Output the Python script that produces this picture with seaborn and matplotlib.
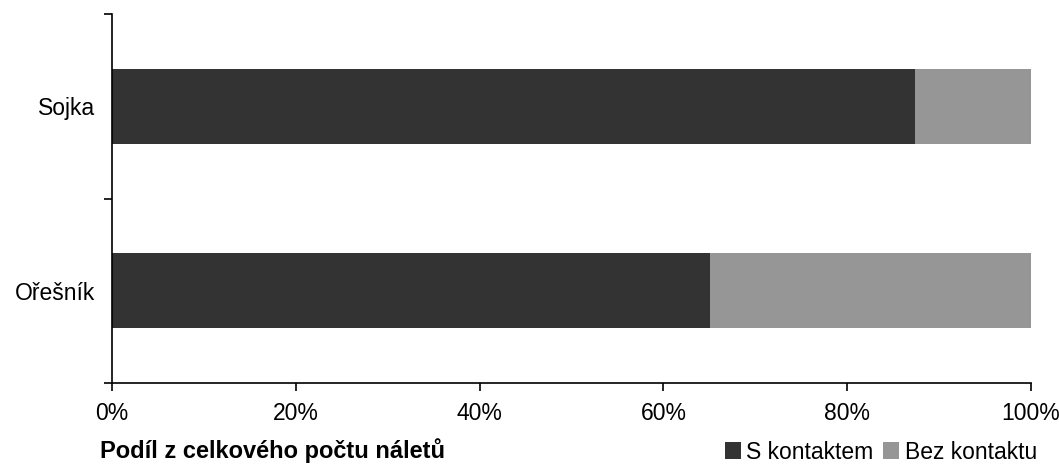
import numpy as np
import pandas as pd
import matplotlib
matplotlib.use('Agg')
import matplotlib.pyplot as plt
import seaborn as sns
from matplotlib.patches import Patch
from matplotlib.ticker import PercentFormatter, FixedLocator

species = ["Sojka", "Ořešník"]
s_kontaktem = [87.4, 65.1]
bez_kontaktu = [12.6, 34.9]
series_names = ["S kontaktem", "Bez kontaktu"]
colors = ["#333333", "#969696"]

df = pd.DataFrame({
    "druh": species,
    "s": s_kontaktem,
    "celkem": np.array(s_kontaktem) + np.array(bez_kontaktu),
})

sns.set_style("white")
plt.rcParams['font.family'] = ['Liberation Sans', 'DejaVu Sans']
plt.rcParams['text.color'] = 'black'
plt.rcParams['xtick.color'] = 'black'
plt.rcParams['ytick.color'] = 'black'

fig = plt.figure(figsize=(10.59, 4.66), dpi=100)
ax = fig.add_axes([0.1058, 0.178, 0.8678, 0.792])

# light bar = full stack, dark bar drawn over it
sns.barplot(data=df, x="celkem", y="druh", order=species, color=colors[1],
            width=0.405, saturation=1, linewidth=0, ax=ax)
sns.barplot(data=df, x="s", y="druh", order=species, color=colors[0],
            width=0.405, saturation=1, linewidth=0, ax=ax)

ax.set_xlim(0, 100)
ax.set_ylim(1.5, -0.5)
ax.set_xticks(np.arange(0, 101, 20))
ax.xaxis.set_major_formatter(PercentFormatter(decimals=0))
ax.set_xlabel("")
ax.set_ylabel("")

# category boundary ticks on y axis, labels without ticks
ax.yaxis.set_minor_locator(FixedLocator([-0.5, 0.5, 1.5]))
ax.tick_params(axis='y', which='major', length=0, pad=12, labelsize=16.5)
ax.tick_params(axis='y', which='minor', length=6, width=1.2, direction='out', left=True)
ax.tick_params(axis='x', length=6, width=1.2, direction='out', bottom=True,
               labelsize=16.5, pad=8)

for side in ["top", "right"]:
    ax.spines[side].set_visible(False)
for side in ["left", "bottom"]:
    ax.spines[side].set_color("black")
    ax.spines[side].set_linewidth(1.2)

fig.text(0.094, 0.017, "Podíl z celkového počtu náletů", fontsize=17,
         fontweight='bold', ha='left', va='baseline')

handles = [Patch(facecolor=c, edgecolor='none') for c in colors]
fig.legend(handles, series_names, loc='center right', bbox_to_anchor=(0.979, 0.03),
           ncol=2, frameon=False, fontsize=16.5, handlelength=0.7, handleheight=0.7,
           handletextpad=0.25, columnspacing=0.4, borderaxespad=0.0, borderpad=0.0)

plt.savefig("out.png", dpi=100)
plt.close()
